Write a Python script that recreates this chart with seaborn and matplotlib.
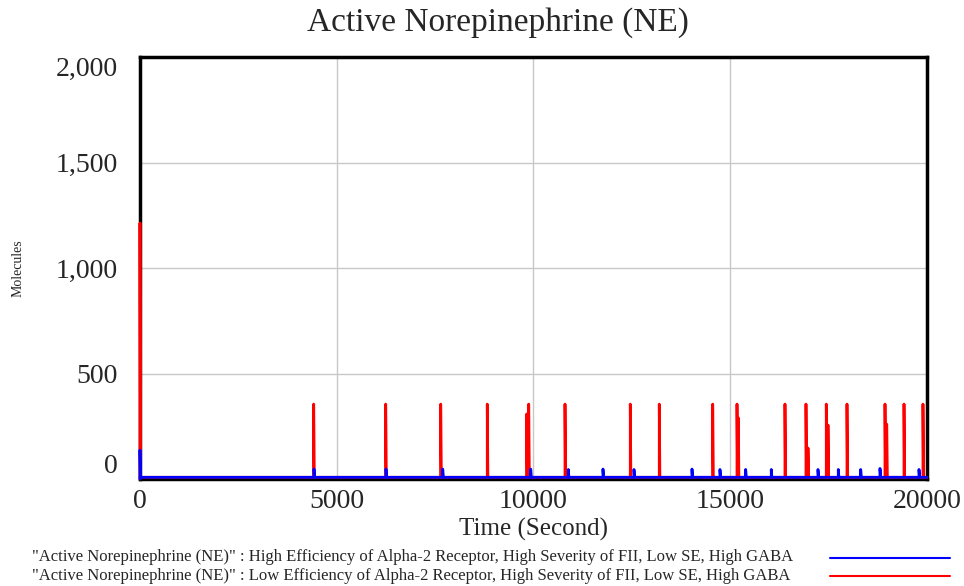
import matplotlib.pyplot as plt
import matplotlib.ticker as mticker
from matplotlib.lines import Line2D
import numpy as np
import pandas as pd
import seaborn as sns

# series labels
lbl_high = '"Active Norepinephrine (NE)" : High Efficiency of Alpha-2 Receptor, High Severity of FII, Low SE, High GABA'
lbl_low = '"Active Norepinephrine (NE)" : Low Efficiency of Alpha-2 Receptor, High Severity of FII, Low SE, High GABA'

# values (time in seconds, molecules)
high_start = 137
high_base = 8
high_spike_t = [4422, 6252, 7693, 9929, 10885, 11766, 12554, 14028, 14739, 15392,
                16043, 17230, 17746, 18315, 18806, 19797]
high_spike_v = [47, 47, 47, 47, 45, 47, 45, 47, 45, 45, 45, 45, 45, 45, 50, 45]

low_start = 1213
low_base = 8
low_spike_t = [4414, 6244, 7642, 8826, 9827, 9878, 10801, 12460, 13197, 14554, 15172, 15205,
               16391, 16925, 16976, 17441, 17484, 17967, 18933, 18976, 19416, 19898]
low_spike_v = [355, 355, 355, 355, 308, 355, 355, 355, 355, 355, 355, 290,
               355, 355, 147, 355, 256, 355, 355, 260, 355, 355]

t_end = 20000


def trace(label, start, base, times, vals):
    rows = [(0, 0), (0, start), (15, base)]
    for t, v in zip(times, vals):
        rows += [(t, base), (t, v), (t + 15, base)]
    rows.append((t_end, base))
    return pd.DataFrame({"Time": [r[0] for r in rows], "Value": [r[1] for r in rows], "run": label})


df = pd.concat([trace("low", low_start, low_base, low_spike_t, low_spike_v),
                trace("high", high_start, high_base, high_spike_t, high_spike_v)],
               ignore_index=True)

sns.set_style("white")
plt.rcParams['font.family'] = ['Liberation Serif', 'DejaVu Serif']

fig = plt.figure(figsize=(9.64, 5.86), dpi=100)
ax = fig.add_axes([0.1452, 0.1826, 0.8164, 0.7201])

sns.lineplot(data=df, x="Time", y="Value", hue="run", hue_order=["low", "high"],
             palette={"low": "#ff0000", "high": "#0000ff"}, sort=False, estimator=None,
             linewidth=2, legend=False, ax=ax)
for ln in ax.lines:
    ln.set_clip_on(False)
    ln.set_zorder(3)

ax.set_xlim(0, t_end)
ax.set_ylim(0, 2000)
ax.set_xticks([0, 5000, 10000, 15000, 20000])
ax.set_yticks([0, 500, 1000, 1500, 2000])
ax.yaxis.set_major_formatter(mticker.StrMethodFormatter("{x:,.0f}"))
ax.grid(True, color="#c8c8c8", linewidth=1)
ax.tick_params(axis="x", length=0, labelsize=20, pad=7)
ax.tick_params(axis="y", length=0, labelsize=20, pad=16)
for s in ax.spines.values():
    s.set_color("black")
    s.set_linewidth(2.5)

# edge labels sit inside the range, as in the original
ylabels = ax.get_yticklabels()
ylabels[0].set_va("bottom")
ylabels[-1].set_va("top")

fig.text(498 / 964, 1 - 23 / 586, "Active Norepinephrine (NE)", fontsize=24,
         ha="center", va="center")
ax.set_xlabel("Time (Second)", fontsize=18, labelpad=3)
ax.set_ylabel("Molecules", fontsize=10, labelpad=22)

# legend rows below the plot
fig.text(0.033, 1 - 557 / 586, lbl_high, fontsize=12, va="center", ha="left")
fig.text(0.033, 1 - 576 / 586, lbl_low, fontsize=12, va="center", ha="left")
fig.add_artist(Line2D([830 / 964, 950 / 964], [1 - 558 / 586] * 2, color="#0000ff", lw=1.5))
fig.add_artist(Line2D([830 / 964, 950 / 964], [1 - 576 / 586] * 2, color="#ff0000", lw=1.5))

fig.savefig("out.png", dpi=100)
